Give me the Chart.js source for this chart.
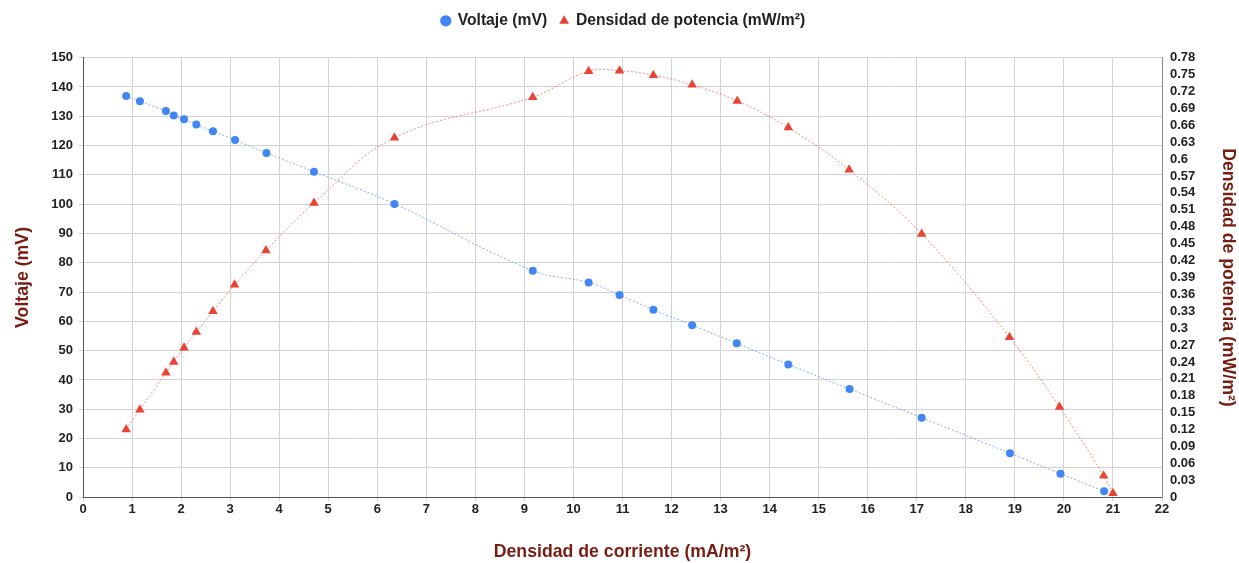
<!DOCTYPE html>
<html lang="es">
<head>
    <meta charset="UTF-8">
    <title>Voltaje y densidad de potencia</title>
    <script src="https://cdn.jsdelivr.net/npm/chart.js"></script>
    <style>
        html, body { margin: 0; padding: 0; background: #fff; }
        #wrap { width: 1239px; height: 563px; position: relative; }
    </style>
</head>
<body>
    <div id="wrap"><canvas id="chart"></canvas></div>

    <script>
        // Densidad de corriente (mA/m²), eje X
        const corriente = [0.88, 1.16, 1.69, 1.85, 2.06, 2.31, 2.65, 3.10, 3.74, 4.71, 6.35, 9.17,
            10.31, 10.94, 11.63, 12.42, 13.33, 14.38, 15.63, 17.10, 18.90, 19.93, 20.82];
        // Voltaje (mV)
        const voltaje = [136.9, 135.1, 131.8, 130.3, 129.0, 127.2, 124.9, 121.9, 117.5, 111.1, 100.1, 77.3,
            73.3, 69.0, 64.0, 58.7, 52.5, 45.3, 36.9, 27.1, 15.0, 8.0, 2.0];

        // Densidad de potencia (mW/m²)
        const corrientePot = [0.88, 1.16, 1.69, 1.85, 2.06, 2.31, 2.65, 3.09, 3.73, 4.71, 6.35, 9.17,
            10.31, 10.94, 11.63, 12.42, 13.34, 14.38, 15.62, 17.10, 18.89, 19.91, 20.81, 21.0];
        const potencia = [0.120, 0.155, 0.221, 0.240, 0.265, 0.293, 0.330, 0.377, 0.438, 0.522, 0.638, 0.710,
            0.756, 0.757, 0.749, 0.732, 0.703, 0.656, 0.581, 0.467, 0.284, 0.160, 0.038, 0.007];

        const potenciaTicks = [0, 0.03, 0.06, 0.09, 0.12, 0.15, 0.18, 0.21, 0.24, 0.27, 0.3, 0.33, 0.36,
            0.39, 0.42, 0.45, 0.48, 0.51, 0.54, 0.57, 0.6, 0.63, 0.66, 0.69, 0.72, 0.75, 0.78];

        const FONT = "'Liberation Sans', Arial, sans-serif";
        const tituloColor = '#771d12';

        // deja mas aire debajo de la leyenda
        const legendSpace = {
            id: 'legendSpace',
            beforeLayout(chart) {
                const lg = chart.legend;
                if (lg && !lg._extra) {
                    const fit = lg.fit.bind(lg);
                    lg.fit = function () { fit(); this.height += 19; };
                    lg._extra = true;
                }
            }
        };

        const ctx = document.getElementById('chart').getContext('2d');
        new Chart(ctx, {
            type: 'scatter',
            data: {
                datasets: [
                    {
                        label: 'Voltaje (mV)',
                        data: corriente.map((x, i) => ({ x: x, y: voltaje[i] })),
                        yAxisID: 'y',
                        showLine: true,
                        tension: 0.4,
                        borderColor: 'rgba(66, 133, 244, 0.65)',
                        borderWidth: 1,
                        borderDash: [2, 2],
                        backgroundColor: '#4285f4',
                        pointBackgroundColor: '#4285f4',
                        pointBorderColor: '#4285f4',
                        pointStyle: 'circle',
                        pointRadius: 4,
                        pointBorderWidth: 0,
                        clip: false
                    },
                    {
                        label: 'Densidad de potencia (mW/m²)',
                        data: corrientePot.map((x, i) => ({ x: x, y: potencia[i] })),
                        yAxisID: 'y1',
                        showLine: true,
                        tension: 0.4,
                        borderColor: 'rgba(234, 67, 53, 0.6)',
                        borderWidth: 1,
                        borderDash: [2, 2],
                        backgroundColor: '#ea4335',
                        pointBackgroundColor: '#ea4335',
                        pointBorderColor: '#ea4335',
                        pointStyle: 'triangle',
                        pointRadius: 5.5,
                        pointBorderWidth: 0,
                        clip: false
                    }
                ]
            },
            options: {
                responsive: true,
                maintainAspectRatio: false,
                animation: false,
                layout: { padding: { left: 8, right: 0, top: 0, bottom: 0 } },
                plugins: {
                    legend: {
                        position: 'top',
                        labels: {
                            usePointStyle: true,
                            boxWidth: 8,
                            boxHeight: 8,
                            padding: 13,
                            color: '#222',
                            font: { family: FONT, size: 15.7, weight: 'bold' }
                        }
                    },
                    tooltip: { enabled: false }
                },
                scales: {
                    x: {
                        type: 'linear',
                        min: 0,
                        max: 22,
                        ticks: {
                            stepSize: 1,
                            autoSkip: false,
                            maxRotation: 0,
                            padding: 0,
                            color: '#222',
                            font: { family: FONT, size: 13, weight: 'bold' }
                        },
                        grid: { color: '#d3d3d3', tickLength: 4 },
                        border: { color: '#555' },
                        title: {
                            display: true,
                            text: 'Densidad de corriente (mA/m²)',
                            color: tituloColor,
                            font: { family: FONT, size: 17.7, weight: 'bold' },
                            padding: { top: 25, bottom: 0 }
                        }
                    },
                    y: {
                        position: 'left',
                        min: 0,
                        max: 150,
                        ticks: {
                            stepSize: 10,
                            autoSkip: false,
                            padding: 6,
                            color: '#222',
                            font: { family: FONT, size: 13, weight: 'bold' }
                        },
                        grid: { color: '#d3d3d3', tickLength: 4 },
                        border: { color: '#555' },
                        title: {
                            display: true,
                            text: 'Voltaje (mV)',
                            color: tituloColor,
                            font: { family: FONT, size: 17.7, weight: 'bold' },
                            padding: { top: 4, bottom: 4 }
                        },
                        afterFit: (scale) => { scale.width = 75; }
                    },
                    y1: {
                        position: 'right',
                        min: 0,
                        max: 0.78,
                        afterBuildTicks: (axis) => {
                            axis.ticks = potenciaTicks.map(v => ({ value: v }));
                        },
                        ticks: {
                            autoSkip: false,
                            padding: 4,
                            color: '#222',
                            font: { family: FONT, size: 13, weight: 'bold' },
                            callback: (v) => String(v)
                        },
                        grid: { display: false, drawTicks: true, tickLength: 4 },
                        border: { color: '#888' },
                        title: {
                            display: true,
                            text: 'Densidad de potencia (mW/m²)',
                            color: tituloColor,
                            font: { family: FONT, size: 17.7, weight: 'bold' },
                            padding: { top: 0, bottom: 4 }
                        },
                        afterFit: (scale) => { scale.width = 77; }
                    }
                }
            },
            plugins: [legendSpace]
        });
    </script>
</body>
</html>
